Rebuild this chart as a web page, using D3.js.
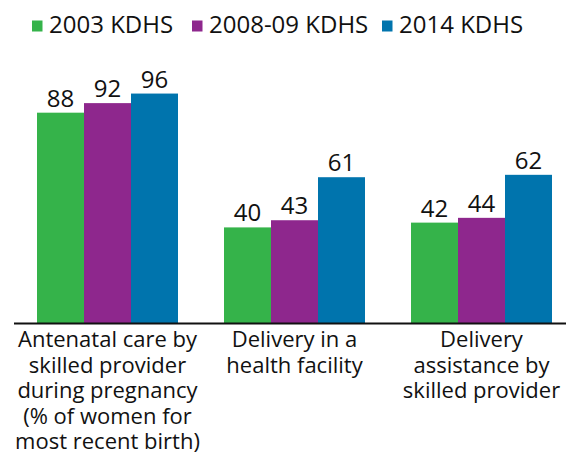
<!DOCTYPE html>
<html>
<head>
<meta charset="utf-8">
<script src="https://cdn.jsdelivr.net/npm/d3@7"></script>
<style>
  body { margin: 0; background: #fff; }
  svg { display: block; font-family: "Open Sans", sans-serif; }
</style>
</head>
<body>
<div id="chart"></div>
<script>
// data
const categories = ["Antenatal care", "Delivery in facility", "Delivery assistance"];
const categoryLines = [
  ["Antenatal care by", "skilled provider", "during pregnancy", "(% of women for", "most recent birth)"],
  ["Delivery in a", "health facility"],
  ["Delivery", "assistance by", "skilled provider"]
];
const seriesNames = ["2003 KDHS", "2008-09 KDHS", "2014 KDHS"];
const seriesColors = ["#35b34a", "#8e278d", "#0074ad"];
const values2003 = [88, 40, 42];
const values2008 = [92, 43, 44];
const values2014 = [96, 61, 62];
const seriesValues = [values2003, values2008, values2014];

const width = 566, height = 456;
const baseY = 323;

const svg = d3.select("#chart").append("svg")
  .attr("width", width).attr("height", height);

const x0 = d3.scaleBand().domain(categories).range([37, 552]).paddingInner(0.246);
const x1 = d3.scaleBand().domain(seriesNames).range([0, x0.bandwidth()]);
const y = d3.scaleLinear().domain([0, 100]).range([baseY, 84]);

// bars + value labels
const groups = svg.selectAll("g.group")
  .data(categories)
  .join("g")
  .attr("class", "group")
  .attr("transform", d => `translate(${x0(d)},0)`);

groups.each(function(cat, ci) {
  const g = d3.select(this);
  const rows = seriesNames.map((s, si) => ({ s, si, v: seriesValues[si][ci] }));
  g.selectAll("rect")
    .data(rows)
    .join("rect")
    .attr("x", d => x1(d.s))
    .attr("y", d => y(d.v))
    .attr("width", x1.bandwidth())
    .attr("height", d => baseY - y(d.v))
    .attr("fill", d => seriesColors[d.si]);
  g.selectAll("text")
    .data(rows)
    .join("text")
    .attr("x", d => x1(d.s) + x1.bandwidth() / 2)
    .attr("y", d => y(d.v) - 6)
    .attr("text-anchor", "middle")
    .attr("font-size", "24px")
    .attr("fill", "#111")
    .text(d => d.v);
});

// baseline
svg.append("line")
  .attr("x1", 14).attr("x2", width)
  .attr("y1", baseY + 0.5).attr("y2", baseY + 0.5)
  .attr("stroke", "#111").attr("stroke-width", 2);

// category labels, centred under each group
categories.forEach((cat, ci) => {
  const cx = x0(cat) + x0.bandwidth() / 2;
  const t = svg.append("text")
    .attr("x", cx)
    .attr("y", 347)
    .attr("text-anchor", "middle")
    .attr("font-size", "22px")
    .attr("fill", "#111");
  categoryLines[ci].forEach((line, li) => {
    t.append("tspan")
      .attr("x", cx)
      .attr("dy", li === 0 ? 0 : 25.6)
      .text(line);
  });
});

// legend
const legendX = [32, 192, 382];
const legend = svg.selectAll("g.legend")
  .data(seriesNames)
  .join("g")
  .attr("class", "legend")
  .attr("transform", (d, i) => `translate(${legendX[i]},20.5)`);
legend.append("rect")
  .attr("width", 10.5).attr("height", 11)
  .attr("fill", (d, i) => seriesColors[i]);
legend.append("text")
  .attr("x", 17).attr("y", 12)
  .attr("font-size", "24px")
  .attr("fill", "#111")
  .text(d => d);
</script>
</body>
</html>
